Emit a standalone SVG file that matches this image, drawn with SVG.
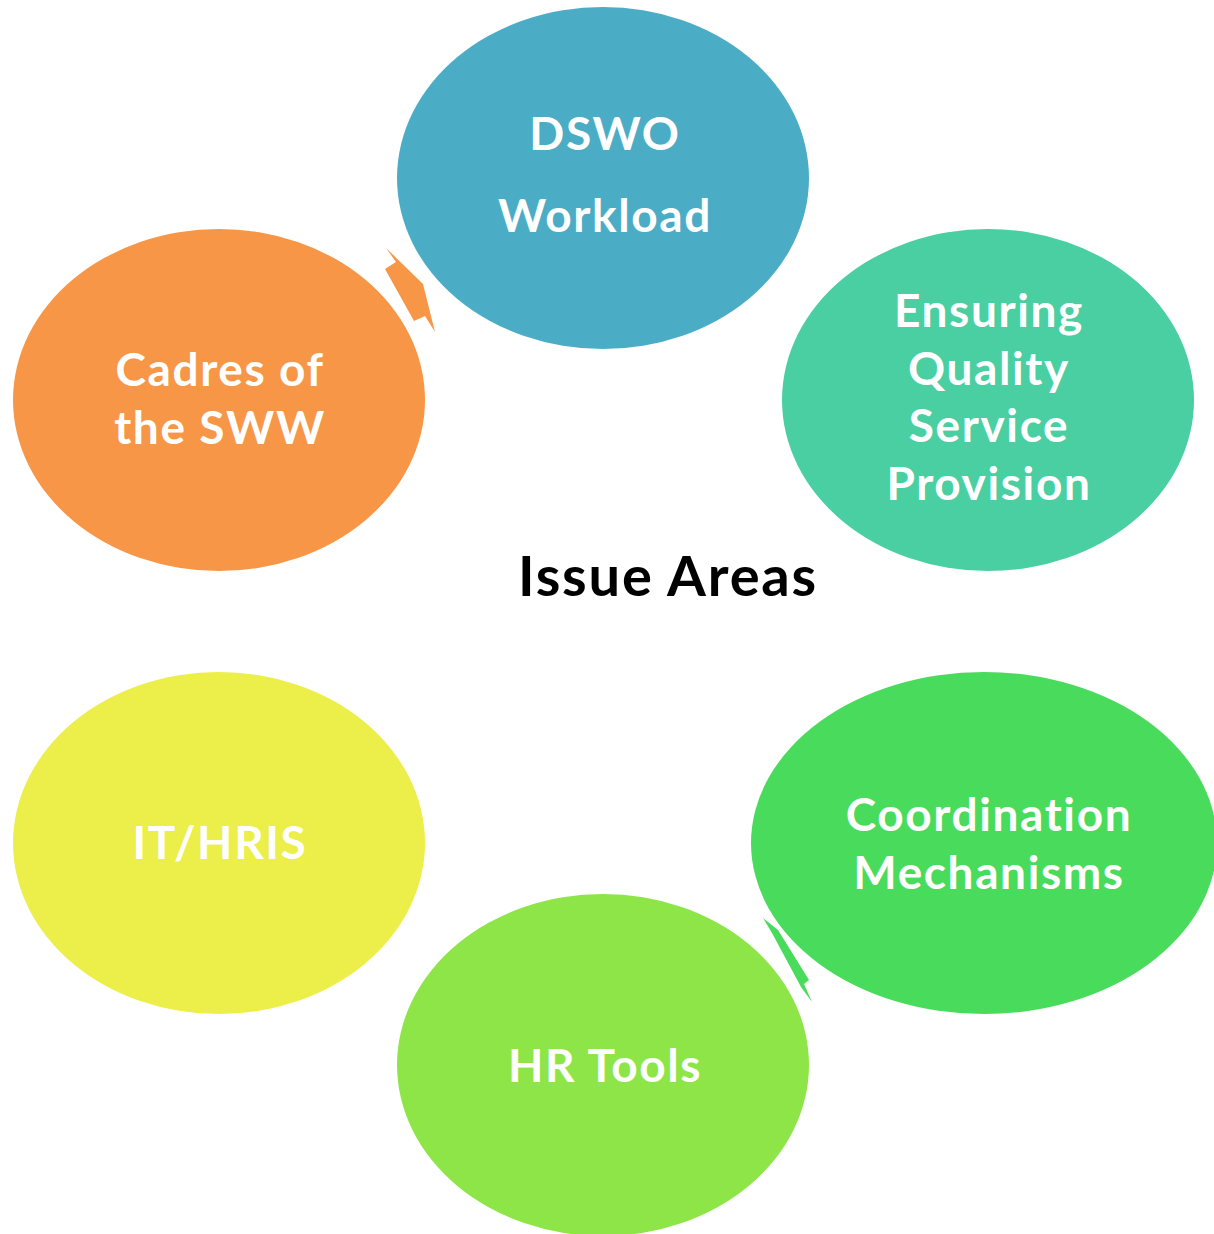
<svg xmlns="http://www.w3.org/2000/svg" width="1214" height="1234" viewBox="0 0 1214 1234">
  <style>
    .lbl { font-family: Lato, "Open Sans", "Liberation Sans", sans-serif; font-weight: bold; font-size: 46px; letter-spacing: 1.6px; font-variant-ligatures: none; fill: #ffffff; text-anchor: middle; }
    .title { font-family: Lato, "Open Sans", "Liberation Sans", sans-serif; font-weight: bold; font-size: 56px; letter-spacing: 1.8px; font-variant-ligatures: none; fill: #000000; text-anchor: middle; }
  </style>
  <rect width="1214" height="1234" fill="#ffffff"/>

  <!-- small bolt-shaped connectors between neighbouring circles -->
  <g id="connectors">
    <polygon points="386,248 396,262 385,269 414,321 425,316 435,332 423,284" fill="#F79646"/>
    <polygon points="763,918 778,930 809,980 804,984 812,1002 801,987 772,933" fill="#48DB5C"/>
  </g>

  <g id="node-dswo">
    <ellipse cx="603" cy="178" rx="206" ry="171" fill="#4BACC6"/>
    <text class="lbl" x="605" y="150">DSWO</text>
    <text class="lbl" x="605" y="232">Workload</text>
  </g>

  <g id="node-quality">
    <ellipse cx="988" cy="400" rx="206" ry="171" fill="#4ACFA2"/>
    <text class="lbl" x="989" y="327">Ensuring</text>
    <text class="lbl" x="989" y="385">Quality</text>
    <text class="lbl" x="989" y="442">Service</text>
    <text class="lbl" x="989" y="500">Provision</text>
  </g>

  <g id="node-coordination">
    <ellipse cx="984" cy="843" rx="233" ry="171" fill="#48DB5C"/>
    <text class="lbl" x="989" y="831">Coordination</text>
    <text class="lbl" x="989" y="889">Mechanisms</text>
  </g>

  <g id="node-hrtools">
    <ellipse cx="603" cy="1065" rx="206" ry="171" fill="#8DE548"/>
    <text class="lbl" x="605" y="1082">HR Tools</text>
  </g>

  <g id="node-it">
    <ellipse cx="219" cy="843" rx="206" ry="171" fill="#ECEE4A"/>
    <text class="lbl" x="220" y="859">IT/HRIS</text>
  </g>

  <g id="node-cadres">
    <ellipse cx="219" cy="400" rx="206" ry="171" fill="#F79646"/>
    <text class="lbl" x="220" y="386">Cadres of</text>
    <text class="lbl" x="220" y="444">the SWW</text>
  </g>

  <g id="center-label">
    <text class="title" x="668" y="596">Issue Areas</text>
  </g>
</svg>
